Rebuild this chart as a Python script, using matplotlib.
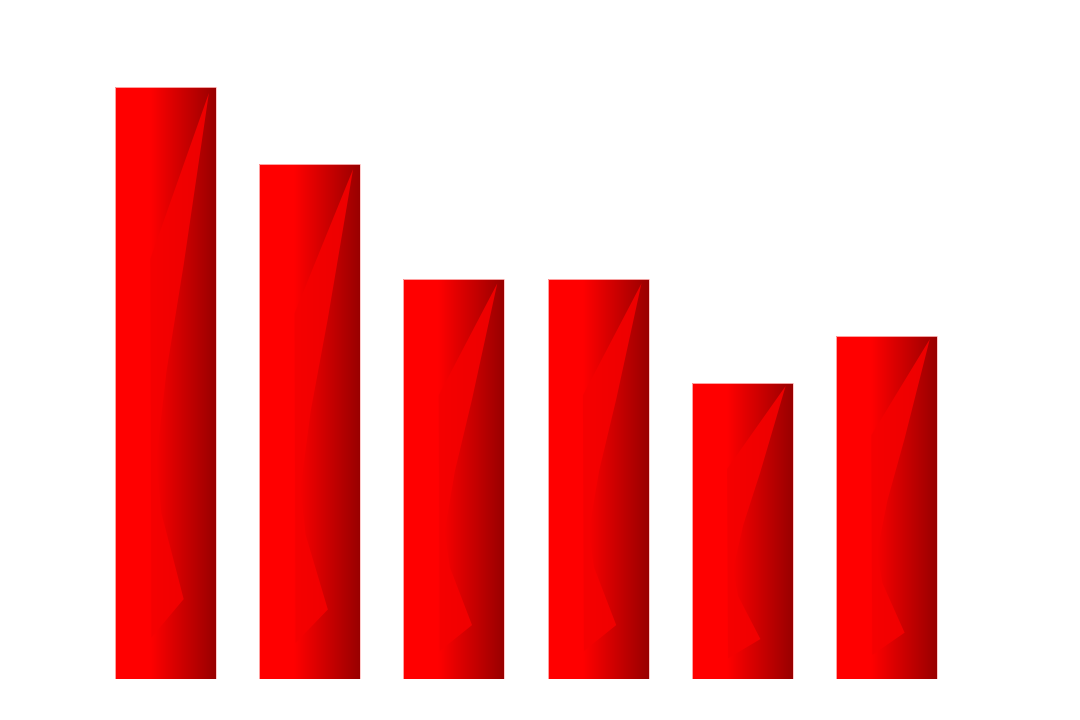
import numpy as np
import matplotlib
matplotlib.use("Agg")
from matplotlib import pyplot as plt
from matplotlib.patches import Polygon

categories = ["A", "B", "C", "D", "E", "F"]
values = [100, 87, 67.5, 67.5, 50, 58]

# sail-shaped highlight, in fractions of the bar (x from left, y from bottom)
sail_fx = [0.93, 0.68, 0.51, 0.41, 0.46, 0.68, 0.36, 0.35]
sail_fy = [0.99, 0.70, 0.52, 0.37, 0.28, 0.135, 0.07, 0.71]

fig = plt.figure(figsize=(10.8, 7.2), dpi=100)
ax = fig.add_axes([0.0865, 0.0569, 0.801, 0.9044])
ax.set_xlim(-0.5, 5.5)
ax.set_ylim(0, 110)
ax.axis("off")

x = np.arange(len(categories))
bars = ax.bar(x, values, width=0.7, color="none", edgecolor="#ffc0c0", linewidth=0.6, zorder=3)

# horizontal gradient: solid red on the left third, darkening to the right
fx = np.linspace(0, 1, 256)
shade = np.where(fx < 0.35, 1.0, 1.0 - (fx - 0.35) / 0.65 * 0.40)
grad = np.zeros((1, 256, 3))
grad[0, :, 0] = shade

for b in bars:
    x0, w, h = b.get_x(), b.get_width(), b.get_height()
    im = ax.imshow(grad, extent=[x0, x0 + w, 0, h], aspect="auto",
                   interpolation="bilinear", zorder=1)
    im.set_clip_path(b)
    pts = [(x0 + a * w, c * h) for a, c in zip(sail_fx, sail_fy)]
    sail = Polygon(pts, closed=True, facecolor=(0.96, 0.0, 0.0), alpha=0.9,
                   edgecolor="none", zorder=2)
    ax.add_patch(sail)
    sail.set_clip_path(b)

fig.savefig("out.png", dpi=100)
